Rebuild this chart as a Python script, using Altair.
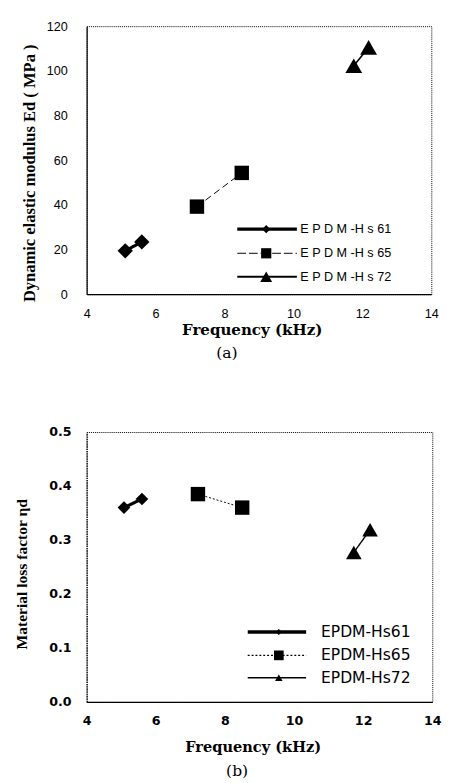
import altair as alt
import pandas as pd

# ---------------- data ----------------
SERIES = ["EPDM-Hs61", "EPDM-Hs65", "EPDM-Hs72"]
LEGEND_LABELS_A = ["E P D M -H s 61", "E P D M -H s 65", "E P D M -H s 72"]
LEGEND_LABELS_B = ["EPDM-Hs61", "EPDM-Hs65", "EPDM-Hs72"]

FREQ_A = [[5.12, 5.60], [7.20, 8.50], [11.75, 12.18]]
MODULUS_A = [[19.4, 23.4], [39.2, 54.3], [102.3, 110.5]]

FREQ_B = [[5.08, 5.60], [7.22, 8.50], [11.73, 12.20]]
LOSS_B = [[0.360, 0.376], [0.385, 0.360], [0.277, 0.319]]

X_TICKS = [4, 6, 8, 10, 12, 14]
Y_TICKS_A = [0, 20, 40, 60, 80, 100, 120]
Y_TICKS_B = [0.0, 0.1, 0.2, 0.3, 0.4, 0.5]

SHAPES = ["diamond", "square", "triangle-up"]

# legend anchors (in data units of each panel)
LEG_A = {"x1": 8.37, "x2": 10.10, "xm": 9.21, "xt": 10.20, "y": [29.1, 18.3, 7.8]}
LEG_B = {"x1": 8.66, "x2": 10.35, "xm": 9.56, "xt": 10.78, "y": [0.1295, 0.0863, 0.045]}

# ---------------- styles ----------------
STYLE_A = [
    dict(sw=3.2, dash=[1, 0], size=250, lsize=70, lsw=3.5, ldash=[1, 0]),
    dict(sw=1.0, dash=[7, 4], size=220, lsize=110, lsw=1.0, ldash=[9, 3]),
    dict(sw=1.6, dash=[1, 0], size=300, lsize=150, lsw=2.0, ldash=[1, 0]),
]
STYLE_B = [
    dict(sw=3.2, dash=[1, 0], size=170, lsize=40, lsw=3.5, ldash=[1, 0]),
    dict(sw=1.0, dash=[2, 2], size=220, lsize=100, lsw=1.5, ldash=[2, 2]),
    dict(sw=1.4, dash=[1, 0], size=260, lsize=60, lsw=1.5, ldash=[1, 0]),
]


def panel(freqs, vals, yticks, ydomain, ytitle, leg, labels, styles, cfg):
    xscale = alt.Scale(domain=[4, 14], nice=False, zero=False)
    yscale = alt.Scale(domain=ydomain, nice=False, zero=False)
    xaxis = alt.Axis(
        values=X_TICKS, grid=False, ticks=False, tickSize=0,
        labelFont=cfg["lfont"], labelFontSize=cfg["lsize"], labelFontWeight=cfg["lweight"],
        labelColor="black", labelPadding=cfg["xpad"],
        domainColor="black", domainWidth=1.2,
        title="Frequency (kHz)", titleFont="DejaVu Serif", titleFontSize=cfg["xtsize"],
        titleFontWeight="bold", titleColor="black", titlePadding=cfg["xtpad"],
        titleX=cfg["xtitle_x"], labelFlush=False,
    )
    yaxis = alt.Axis(
        values=yticks, grid=False, ticks=False, tickSize=0, format=cfg["yfmt"],
        labelFont=cfg["lfont"], labelFontSize=cfg["lsize"], labelFontWeight=cfg["lweight"],
        labelColor="black", labelPadding=cfg["ypad"],
        domainColor="black", domainWidth=1.2, domainDash=cfg["ydash"],
        title=ytitle, titleFont="Liberation Serif", titleFontSize=cfg["ytsize"],
        titleFontWeight="bold", titleColor="black", titlePadding=cfg["ytpad"],
        titleY=cfg["ytitle_y"], labelFlush=False,
    )

    def X(field):
        return alt.X(field, type="quantitative", scale=xscale, axis=xaxis)

    def Y(field):
        return alt.Y(field, type="quantitative", scale=yscale, axis=yaxis)

    layers = []
    for i, name in enumerate(SERIES):
        st = styles[i]
        df = pd.DataFrame({"f": freqs[i], "v": vals[i], "series": name})
        base = alt.Chart(df)
        layers.append(
            base.mark_line(color="black", strokeWidth=st["sw"], strokeDash=st["dash"])
            .encode(x=X("f"), y=Y("v"))
        )
        layers.append(
            base.mark_point(shape=SHAPES[i], filled=True, color="black", opacity=1,
                            size=st["size"], strokeWidth=0)
            .encode(x=X("f"), y=Y("v"))
        )
        ldf = pd.DataFrame({
            "x1": [leg["x1"]], "x2": [leg["x2"]], "xm": [leg["xm"]], "xt": [leg["xt"]],
            "y": [leg["y"][i]], "label": [labels[i]],
        })
        lbase = alt.Chart(ldf)
        layers.append(
            lbase.mark_rule(color="black", strokeWidth=st["lsw"], strokeDash=st["ldash"])
            .encode(x=X("x1"), x2="x2", y=Y("y"))
        )
        layers.append(
            lbase.mark_point(shape=SHAPES[i], filled=True, color="black", opacity=1,
                             size=st["lsize"], strokeWidth=0)
            .encode(x=X("xm"), y=Y("y"))
        )
        layers.append(
            lbase.mark_text(align="left", baseline="middle", font=cfg["legfont"],
                            fontSize=cfg["legsize"], color="black")
            .encode(x=X("xt"), y=Y("y"), text="label:N")
        )
    return alt.layer(*layers).properties(
        width=cfg["w"], height=cfg["h"],
        title=alt.TitleParams(cfg["tag"], orient="bottom", anchor="middle", frame="group",
                              font="DejaVu Serif", fontSize=16, fontWeight="normal",
                              color="black", offset=cfg["tagoff"], dx=cfg["tagdx"]),
    )


cfg_a = dict(
    w=355, h=276, lfont="Liberation Sans", lsize=13, lweight="normal", xpad=14, ypad=20,
    xtsize=15.5, xtpad=3, xtitle_x=170, yfmt="d", ydash=[1, 0], ytsize=17, ytpad=8,
    ytitle_y=151, legfont="Liberation Sans", legsize=13, tag="(a)", tagoff=7, tagdx=-33,
)
cfg_b = dict(
    w=356, h=278, lfont="DejaVu Sans", lsize=13, lweight="bold", xpad=13, ypad=16,
    xtsize=15, xtpad=13, xtitle_x=171, yfmt=".1f", ydash=[1.5, 1], ytsize=16, ytpad=20,
    ytitle_y=146, legfont="DejaVu Sans", legsize=16, tag="(b)", tagoff=9, tagdx=-23,
)

chart_a = panel(FREQ_A, MODULUS_A, Y_TICKS_A, [0, 120],
                "Dynamic elastic modulus Ed ( MPa )", LEG_A, LEGEND_LABELS_A, STYLE_A, cfg_a)
chart_b = panel(FREQ_B, LOSS_B, Y_TICKS_B, [0, 0.5],
                "Material loss factor ηd", LEG_B, LEGEND_LABELS_B, STYLE_B, cfg_b)

chart = (
    alt.concat(chart_a, chart_b, columns=1, spacing=66, align="none")
    .properties(background="white", padding={"left": 5, "top": 0, "right": 0, "bottom": 0})
    .configure_view(stroke="black", strokeWidth=1, strokeDash=[1, 1])
)

chart.save("out.html", embed_options={"renderer": "svg", "actions": False})
